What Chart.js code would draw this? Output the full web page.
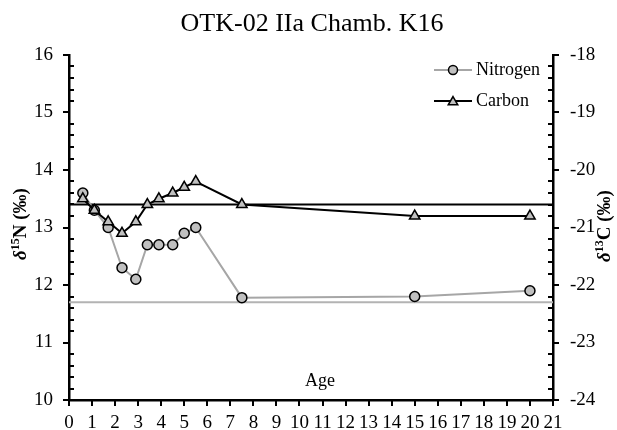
<!DOCTYPE html>
<html><head><meta charset="utf-8">
<script src="https://cdn.jsdelivr.net/npm/chart.js@4"></script>
<style>html,body{margin:0;padding:0;background:#fff}</style>
</head><body>
<canvas id="c" width="617" height="430" style="display:block;width:617px;height:430px"></canvas>
<script>
const chartTitle = 'OTK-02 IIa Chamb. K16';
const xLabel = 'Age';
const seriesNames = ['Nitrogen', 'Carbon'];
const ages = [0.6, 1.1, 1.7, 2.3, 2.9, 3.4, 3.9, 4.5, 5.0, 5.5, 7.5, 15, 20];
const nitrogen = [13.6, 13.3, 13.0, 12.3, 12.1, 12.7, 12.7, 12.7, 12.9, 13.0, 11.78, 11.8, 11.9];
const carbon = [-20.5, -20.7, -20.9, -21.1, -20.9, -20.6, -20.5, -20.4, -20.3, -20.2, -20.6, -20.8, -20.8];
const nitrogenRef = 11.7;
const carbonRef = -20.6;
const ageTicks = [0,1,2,3,4,5,6,7,8,9,10,11,12,13,14,15,16,17,18,19,20,21];
const nTicks = [10,11,12,13,14,15,16];
const cTicks = [-24,-23,-22,-21,-20,-19,-18];

const SERIF = '"Liberation Serif","Times New Roman",serif';
const GRAY_LINE = '#a6a6a6';
const GRAY_FILL = '#c0c0c0';

const xMin = ageTicks[0], xMax = ageTicks[ageTicks.length - 1];

function drawRich(ctx, parts, cx, cy, rot) {
  ctx.save();
  ctx.translate(cx, cy);
  ctx.rotate(rot);
  let total = 0;
  parts.forEach(p => { ctx.font = p.font; p.w = ctx.measureText(p.t).width; total += p.w; });
  let x = -total / 2;
  ctx.textBaseline = 'alphabetic';
  ctx.textAlign = 'left';
  ctx.fillStyle = '#000';
  parts.forEach(p => { ctx.font = p.font; ctx.fillText(p.t, x, 6 - (p.rise || 0)); x += p.w; });
  ctx.restore();
}
function axisTitleParts(iso, el) {
  return [
    {t: 'δ', font: 'italic bold 19px ' + SERIF},
    {t: iso, font: 'bold 12px ' + SERIF, rise: 7},
    {t: el + ' (‰)', font: 'bold 19px ' + SERIF}
  ];
}
function tri(ctx, x, y, r) {
  ctx.beginPath();
  for (let k = 0; k < 3; k++) {
    const a = k * 2 * Math.PI / 3;
    const px = x + Math.sin(a) * r, py = y - Math.cos(a) * r;
    if (k === 0) ctx.moveTo(px, py); else ctx.lineTo(px, py);
  }
  ctx.closePath();
}

const decor = {
  id: 'decor',
  afterDraw(chart) {
    const ctx = chart.ctx;
    const {x, yN, yC} = chart.scales;
    const ca = chart.chartArea;
    ctx.save();
    ctx.strokeStyle = '#000';
    ctx.lineWidth = 2;
    for (let i = 0; i <= 30; i++) {
      const v = nTicks[0] + i * 0.2;
      const p = Math.round(yN.getPixelForValue(v));
      ctx.beginPath();
      if (i % 5 === 0) { ctx.moveTo(ca.left - 6, p); ctx.lineTo(ca.left, p); }
      else { ctx.moveTo(ca.left, p); ctx.lineTo(ca.left + 5, p); }
      ctx.stroke();
    }
    for (let i = 0; i <= 30; i++) {
      const v = cTicks[0] + i * 0.2;
      const p = Math.round(yC.getPixelForValue(v));
      ctx.beginPath();
      if (i % 5 === 0) { ctx.moveTo(ca.right, p); ctx.lineTo(ca.right + 6, p); }
      else { ctx.moveTo(ca.right - 5, p); ctx.lineTo(ca.right, p); }
      ctx.stroke();
    }
    ageTicks.forEach(v => {
      const p = Math.round(x.getPixelForValue(v));
      ctx.beginPath(); ctx.moveTo(p, ca.bottom); ctx.lineTo(p, ca.bottom + 6); ctx.stroke();
    });
    ctx.fillStyle = '#000';
    ctx.font = '26px ' + SERIF;
    ctx.textAlign = 'center';
    ctx.textBaseline = 'middle';
    ctx.fillText(chartTitle, 312, 24);
    ctx.font = '18px ' + SERIF;
    ctx.fillText(xLabel, 320, 381);
    const lx0 = 434, lx1 = 472, lm = 453;
    const ly = [70, 101];
    ctx.lineWidth = 2;
    ctx.strokeStyle = GRAY_LINE;
    ctx.beginPath(); ctx.moveTo(lx0, ly[0]); ctx.lineTo(lx1, ly[0]); ctx.stroke();
    ctx.beginPath(); ctx.arc(lm, ly[0], 4.5, 0, Math.PI * 2);
    ctx.fillStyle = GRAY_FILL; ctx.fill(); ctx.strokeStyle = '#000'; ctx.lineWidth = 1.5; ctx.stroke();
    ctx.lineWidth = 2; ctx.strokeStyle = '#000';
    ctx.beginPath(); ctx.moveTo(lx0, ly[1]); ctx.lineTo(lx1, ly[1]); ctx.stroke();
    tri(ctx, lm, ly[1] + 1, 5.5);
    ctx.fillStyle = GRAY_FILL; ctx.fill(); ctx.lineWidth = 1.5; ctx.stroke();
    ctx.fillStyle = '#000';
    ctx.font = '18px ' + SERIF;
    ctx.textAlign = 'left';
    ctx.textBaseline = 'middle';
    ctx.fillText(seriesNames[0], 476, ly[0]);
    ctx.fillText(seriesNames[1], 476, ly[1]);
    ctx.restore();
    drawRich(ctx, axisTitleParts('15', 'N'), 20, 224, -Math.PI / 2);
    drawRich(ctx, axisTitleParts('13', 'C'), 604, 226, -Math.PI / 2);
  }
};

const pts = (xs, ys) => xs.map((a, i) => ({x: a, y: ys[i]}));

new Chart(document.getElementById('c'), {
  type: 'line',
  data: {
    datasets: [
      {label: seriesNames[1], data: pts(ages, carbon), yAxisID: 'yC', borderColor: '#000', borderWidth: 2,
       pointStyle: 'triangle', pointRadius: 6, pointBackgroundColor: GRAY_FILL, pointBorderColor: '#000', pointBorderWidth: 1.5, order: 0},
      {label: seriesNames[0], data: pts(ages, nitrogen), yAxisID: 'yN', borderColor: GRAY_LINE, borderWidth: 2,
       pointStyle: 'circle', pointRadius: 5, pointBackgroundColor: GRAY_FILL, pointBorderColor: '#000', pointBorderWidth: 1.5, order: 1},
      {label: 'refC', data: pts([xMin, xMax], [carbonRef, carbonRef]), yAxisID: 'yC', borderColor: '#000', borderWidth: 2, pointRadius: 0, order: 2},
      {label: 'refN', data: pts([xMin, xMax], [nitrogenRef, nitrogenRef]), yAxisID: 'yN', borderColor: '#b3b3b3', borderWidth: 2, pointRadius: 0, order: 3}
    ]
  },
  options: {
    responsive: false,
    animation: false,
    layout: {padding: {top: 55, left: 0, right: 0, bottom: 0}},
    plugins: {legend: {display: false}, tooltip: {enabled: false}, title: {display: false}},
    elements: {line: {tension: 0}},
    scales: {
      x: {type: 'linear', min: xMin, max: xMax,
          afterBuildTicks: s => { s.ticks = ageTicks.map(v => ({value: v})); },
          grid: {display: false, drawTicks: false}, border: {display: true, color: '#000', width: 2.5},
          ticks: {color: '#000', font: {family: SERIF, size: 19}, padding: 12, maxRotation: 0, autoSkip: false},
          afterFit: s => { s.height = 30; }},
      yN: {type: 'linear', position: 'left', min: nTicks[0], max: nTicks[nTicks.length - 1],
          afterBuildTicks: s => { s.ticks = nTicks.map(v => ({value: v})); },
          grid: {display: false, drawTicks: false}, border: {display: true, color: '#000', width: 2.5},
          ticks: {color: '#000', font: {family: SERIF, size: 19}, padding: 16},
          afterFit: s => { s.width = 69; }},
      yC: {type: 'linear', position: 'right', min: cTicks[0], max: cTicks[cTicks.length - 1],
          afterBuildTicks: s => { s.ticks = cTicks.map(v => ({value: v})); },
          grid: {display: false, drawTicks: false}, border: {display: true, color: '#000', width: 2.5},
          ticks: {color: '#000', font: {family: SERIF, size: 19}, padding: 17},
          afterFit: s => { s.width = 64; }}
    }
  },
  plugins: [decor]
});
</script>
</body></html>
